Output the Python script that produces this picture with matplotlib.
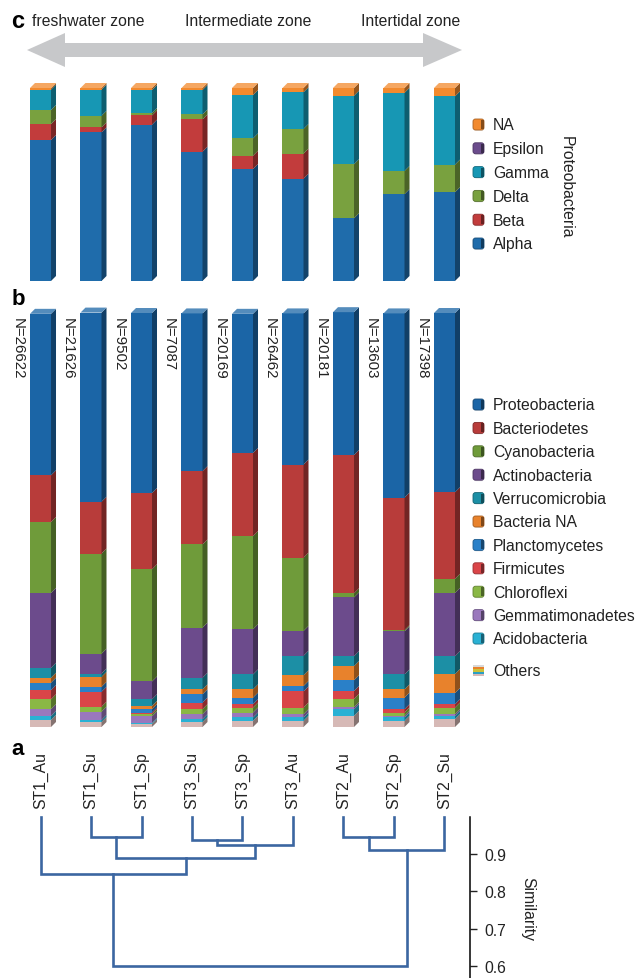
import numpy as np
import matplotlib
matplotlib.use("Agg")
import matplotlib.pyplot as plt
from matplotlib.patches import Polygon, FancyBboxPatch, Rectangle
from matplotlib.colors import to_rgb

plt.rcParams['font.family'] = ['Liberation Sans', 'DejaVu Sans']

# ---------------------------------------------------------------- data
samples = ["ST1_Au", "ST1_Su", "ST1_Sp", "ST3_Su", "ST3_Sp", "ST3_Au",
           "ST2_Au", "ST2_Sp", "ST2_Su"]
read_counts = [26622, 21626, 9502, 7087, 20169, 26462, 20181, 13603, 17398]
zones = ["freshwater zone", "Intermediate zone", "Intertidal zone"]

# Proteobacteria classes (% of proteobacterial reads), bottom to top
alpha = [73.0, 77.0, 81.0, 67.0, 58.0, 53.0, 32.5, 45.0, 46.0]
beta = [8.3, 2.6, 4.8, 16.7, 6.9, 13.0, 0.0, 0.0, 0.0]
delta = [7.3, 6.0, 1.2, 2.6, 9.0, 12.8, 28.0, 12.0, 14.3]
gamma = [10.6, 13.6, 12.0, 12.7, 22.4, 19.0, 35.5, 40.5, 35.4]
epsilon = [0.0, 0.0, 0.0, 0.0, 0.0, 0.0, 0.0, 0.0, 0.0]
proteo_na = [0.8, 0.8, 1.0, 1.0, 3.7, 2.2, 4.0, 2.5, 4.3]
class_names = ["NA", "Epsilon", "Gamma", "Delta", "Beta", "Alpha"]

# Phyla (% of bacterial reads), bottom to top
others = [1.7, 1.2, 0.7, 1.2, 1.5, 1.5, 2.7, 1.5, 1.9]
acidobacteria = [1.0, 0.5, 0.3, 0.7, 0.8, 0.8, 1.6, 0.8, 0.8]
gemmatimonadetes = [1.6, 2.0, 1.6, 1.2, 1.2, 0.8, 0.5, 0.4, 0.4]
chloroflexi = [2.4, 1.2, 0.5, 1.2, 1.2, 1.6, 2.0, 0.8, 1.6]
firmicutes = [2.2, 3.6, 0.4, 1.6, 0.8, 3.9, 1.9, 0.8, 0.8]
planctomycetes = [1.8, 1.2, 0.8, 2.0, 1.6, 1.3, 2.6, 2.8, 2.7]
bacteria_na = [1.2, 2.4, 0.8, 1.2, 2.0, 2.6, 3.4, 2.0, 4.6]
verrucomicrobia = [2.4, 0.8, 1.6, 2.8, 3.6, 4.7, 2.4, 3.6, 4.3]
actinobacteria = [18.1, 4.8, 4.3, 12.1, 10.9, 6.0, 14.2, 10.4, 15.3]
cyanobacteria = [17.1, 24.2, 27.1, 20.1, 22.5, 17.7, 1.0, 0.3, 3.4]
bacteriodetes = [11.3, 12.5, 18.4, 17.7, 20.1, 22.5, 33.4, 32.0, 20.9]
proteobacteria = [39.0, 45.7, 43.5, 38.1, 33.6, 36.5, 34.5, 44.5, 43.3]
phylum_names = ["Proteobacteria", "Bacteriodetes", "Cyanobacteria",
                "Actinobacteria", "Verrucomicrobia", "Bacteria NA",
                "Planctomycetes", "Firmicutes", "Chloroflexi",
                "Gemmatimonadetes", "Acidobacteria", "Others"]

# UPGMA-style merges: (cluster a, cluster b, similarity); new ids start at 9
merge_a = [1, 3, 6, 10, 11, 9, 0, 15]
merge_b = [2, 4, 7, 5, 8, 12, 14, 13]
merge_sim = [0.945, 0.938, 0.945, 0.925, 0.911, 0.891, 0.848, 0.600]
sim_ticks = [0.6, 0.7, 0.8, 0.9]

# ---------------------------------------------------------------- styles
class_colors = {"Alpha": "#1f6cab", "Beta": "#c23c3c", "Delta": "#79a13f",
                "Gamma": "#1797b4", "Epsilon": "#6b4c8c", "NA": "#f28a2e"}
phylum_colors = {"Proteobacteria": "#1b65a6", "Bacteriodetes": "#b83c3a",
                 "Cyanobacteria": "#6f9b3a", "Actinobacteria": "#6c4b8c",
                 "Verrucomicrobia": "#1c8fa5", "Bacteria NA": "#e8822c",
                 "Planctomycetes": "#2a80c8", "Firmicutes": "#da4548",
                 "Chloroflexi": "#8ab845", "Gemmatimonadetes": "#9a78bd",
                 "Acidobacteria": "#2ab1d4", "Others": "#d6b9b6"}
tree_color = "#3b66a1"
TXT = '#222222'
FS = 11.3

W, H = 639, 979
fig = plt.figure(figsize=(W / 100, H / 100), dpi=100)


def axes_px(left, top, right, bottom):
    return fig.add_axes([left / W, 1 - bottom / H, (right - left) / W,
                         (bottom - top) / H])


def darker(c, f=0.62):
    return tuple(np.array(to_rgb(c)) * f)


def lighter(c, f=0.25):
    rgb = np.array(to_rgb(c))
    return tuple(rgb + (1 - rgb) * f)


XLIM = (-0.505, 8.505)
BAR_W = 0.416


def draw_stack(ax, layers, colors, depth_px=5):
    """Stacked bars with a right side face and a top face for a 3D look."""
    pos = ax.get_position()
    x0, x1 = ax.get_xlim()
    y0, y1 = ax.get_ylim()
    dx = depth_px * (x1 - x0) / (pos.width * W)
    dy = depth_px * (y1 - y0) / (pos.height * H)
    n = len(layers[0])
    xs = np.arange(n)
    bottoms = np.zeros(n)
    top_col = [None] * n
    for vals, col in zip(layers, colors):
        vals = np.asarray(vals, dtype=float)
        ax.bar(xs, vals, bottom=bottoms, width=BAR_W, color=col,
               linewidth=0, clip_on=False)
        for i, (x, b, h) in enumerate(zip(xs, bottoms, vals)):
            if h <= 0:
                continue
            xr = x + BAR_W / 2
            ax.add_patch(Polygon([(xr, b), (xr + dx, b + dy),
                                  (xr + dx, b + h + dy), (xr, b + h)],
                                 closed=True, facecolor=darker(col),
                                 linewidth=0, clip_on=False))
            top_col[i] = col
        bottoms = bottoms + vals
    for x, t, col in zip(xs, bottoms, top_col):
        xl, xr = x - BAR_W / 2, x + BAR_W / 2
        ax.add_patch(Polygon([(xl, t), (xl + dx, t + dy), (xr + dx, t + dy),
                              (xr, t)], closed=True, facecolor=lighter(col),
                             linewidth=0, clip_on=False))


# ---------------------------------------------------------------- panel c
ax_c = axes_px(15, 89, 470, 282)
ax_c.set_xlim(*XLIM)
ax_c.set_ylim(0, 100)
ax_c.axis('off')
class_layers = [alpha, beta, delta, gamma, epsilon, proteo_na]
class_order = ["Alpha", "Beta", "Delta", "Gamma", "Epsilon", "NA"]
draw_stack(ax_c, class_layers, [class_colors[k] for k in class_order])

# ---------------------------------------------------------------- panel b
ax_b = axes_px(15, 314, 470, 728)
ax_b.set_xlim(*XLIM)
ax_b.set_ylim(0, 100)
ax_b.axis('off')
phylum_layers = [others, acidobacteria, gemmatimonadetes, chloroflexi,
                 firmicutes, planctomycetes, bacteria_na, verrucomicrobia,
                 actinobacteria, cyanobacteria, bacteriodetes, proteobacteria]
draw_stack(ax_b, phylum_layers,
           [phylum_colors[k] for k in phylum_names[::-1]])
for i, n in enumerate(read_counts):
    ax_b.text(i - 0.46, 99.0, f"N={n}", rotation=270, ha='center',
              va='top', fontsize=10.8, color=TXT)

# ---------------------------------------------------------------- panel a
ax_a = axes_px(15, 818, 470, 979)
ax_a.set_xlim(*XLIM)
ax_a.set_ylim(0.567, 1.0)
pos = {i: float(i) for i in range(len(samples))}
height = {i: 1.0 for i in range(len(samples))}
for k, (a, b, s) in enumerate(zip(merge_a, merge_b, merge_sim)):
    ax_a.plot([pos[a], pos[a], pos[b], pos[b]], [height[a], s, s, height[b]],
              color=tree_color, lw=1.9, solid_joinstyle='miter',
              clip_on=False)
    cid = len(samples) + k
    pos[cid] = (pos[a] + pos[b]) / 2
    height[cid] = s
for i, name in enumerate(samples):
    ax_a.annotate(name, (i, 1.0), xytext=(0, 9), textcoords='offset pixels',
                  rotation=90, ha='center', va='bottom', fontsize=FS,
                  color=TXT, annotation_clip=False)
for side in ('left', 'top', 'bottom'):
    ax_a.spines[side].set_visible(False)
ax_a.spines['right'].set_linewidth(1.1)
ax_a.yaxis.tick_right()
ax_a.set_yticks(sim_ticks)
ax_a.set_yticklabels([f"{t:.1f}" for t in sim_ticks])
ax_a.tick_params(axis='y', direction='out', length=5, width=1.0,
                 labelsize=FS, pad=5, colors=TXT)
ax_a.set_xticks([])
ax_a.patch.set_visible(False)

# ---------------------------------------------------------------- overlay
ov = fig.add_axes([0, 0, 1, 1])
ov.set_xlim(0, W)
ov.set_ylim(H, 0)
ov.axis('off')
ov.patch.set_visible(False)

ov.text(528, 909, "Similarity", fontsize=FS, rotation=270, ha='center',
        va='center', color=TXT)

# panel letters
ov.text(18, 28, "c", fontsize=17, fontweight='bold', ha='center',
        va='baseline')
ov.text(18, 305, "b", fontsize=16, fontweight='bold', ha='center',
        va='baseline')
ov.text(18, 755, "a", fontsize=16, fontweight='bold', ha='center',
        va='baseline')

# zone header and double arrow
ov.text(32, 21, zones[0], fontsize=FS, ha='left', va='center', color=TXT)
ov.text(248, 21, zones[1], fontsize=FS, ha='center', va='center', color=TXT)
ov.text(460, 21, zones[2], fontsize=FS, ha='right', va='center', color=TXT)
ov.add_patch(Polygon([(27, 51), (65, 34), (65, 44), (423, 44), (423, 34),
                      (462, 51), (423, 68), (423, 58), (65, 58), (65, 68)],
                     closed=True, facecolor='#c7c8ca', edgecolor='none'))


def legend_key(x, y, col):
    ov.add_patch(FancyBboxPatch((x + 1, y - 5), 10, 11,
                                boxstyle="round,pad=0,rounding_size=2.5",
                                facecolor=(0.6, 0.6, 0.6, 0.25),
                                edgecolor='none'))
    ov.add_patch(FancyBboxPatch((x, y - 6), 11, 11,
                                boxstyle="round,pad=0,rounding_size=2.5",
                                facecolor=col, edgecolor=darker(col, 0.7),
                                linewidth=0.6))
    ov.add_patch(Rectangle((x + 8, y - 5), 2.5, 9,
                           facecolor=darker(col, 0.55), edgecolor='none'))


# panel c legend
for i, name in enumerate(class_names):
    y = 126 + 23.8 * i
    legend_key(473, y, class_colors[name])
    ov.text(493, y, name, fontsize=FS, ha='left', va='center', color=TXT)
ov.text(566, 187, "Proteobacteria", fontsize=FS, rotation=270,
        ha='center', va='center', color=TXT)

# panel b legend
for i, name in enumerate(phylum_names):
    y = 406 + 23.4 * i if name != "Others" else 672
    if name == "Others":
        for j, c in enumerate(["#d9d9d9", "#e8822c", "#c9c23a", "#2a9fc4",
                               "#d6b9b6"]):
            ov.add_patch(Rectangle((473, y - 6 + 2.2 * j), 11, 2.2,
                                   facecolor=c, edgecolor='none'))
    else:
        legend_key(473, y, phylum_colors[name])
    ov.text(493, y, name, fontsize=FS, ha='left', va='center', color=TXT)

fig.savefig("out.png", dpi=100)
